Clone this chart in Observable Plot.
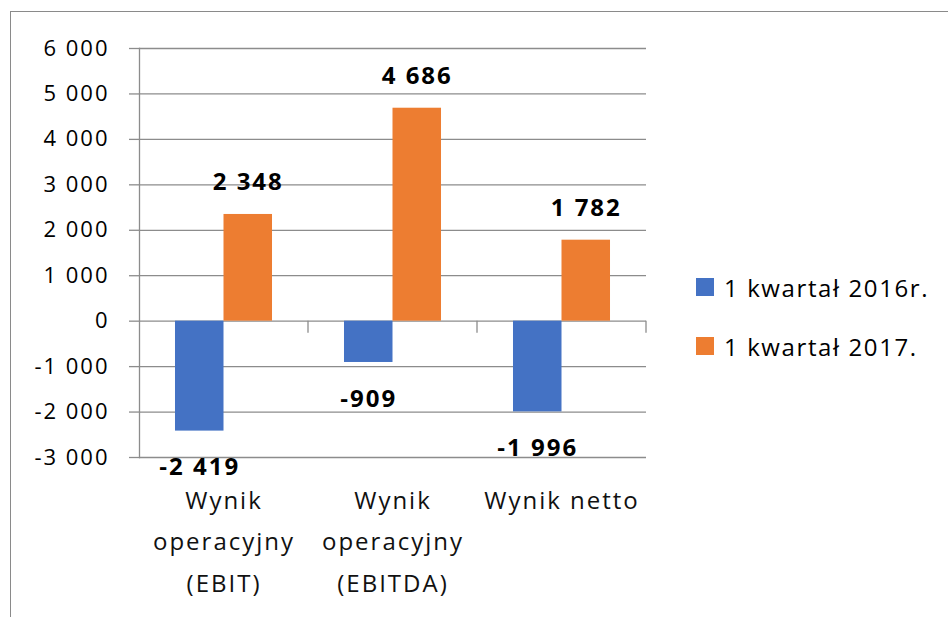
<!DOCTYPE html>
<html>
<head>
<meta charset="utf-8">
<script src="https://cdn.jsdelivr.net/npm/d3@7"></script>
<script src="https://cdn.jsdelivr.net/npm/@observablehq/plot@0.6"></script>
<style>
  html, body { margin: 0; padding: 0; background: #fff; }
  #wrap { position: relative; width: 948px; height: 617px; overflow: hidden; font-family: "Open Sans", sans-serif; }
  #border { position: absolute; left: 10px; top: 11px; width: 960px; height: 640px; border-left: 1.5px solid #8a8a8a; border-top: 1.5px solid #8a8a8a; }
  #chart { position: absolute; left: 0; top: 0; }
  #legend { position: absolute; left: 696px; top: 270px; }
  .item { display: flex; align-items: center; height: 34px; margin-bottom: 25px; font-size: 24px; letter-spacing: 1.6px; color: #000; white-space: nowrap; }
  .sw { width: 18px; height: 18px; margin-right: 10px; flex: none; }
</style>
</head>
<body>
<div id="wrap">
  <div id="border"></div>
  <div id="chart"></div>
  <div id="legend"></div>
</div>
<script>
const categories = ["Wynik operacyjny (EBIT)", "Wynik operacyjny (EBITDA)", "Wynik netto"];
const categoryLabels = ["Wynik\noperacyjny\n(EBIT)", "Wynik\noperacyjny\n(EBITDA)", "Wynik netto"];
const series = ["1 kwartał 2016r.", "1 kwartał 2017."];
const values2016 = [-2419, -909, -1996];
const values2017 = [2348, 4686, 1782];
const colors = ["#4472C4", "#ED7D31"];
const yTicks = [-3000, -2000, -1000, 0, 1000, 2000, 3000, 4000, 5000, 6000];

const locale = d3.formatLocale({decimal: ",", thousands: " ", grouping: [3], currency: ["", ""], minus: "-"});
const fmt = locale.format(",d");

const data = [];
categories.forEach((c, i) => {
  data.push({category: c, series: series[0], value: values2016[i]});
  data.push({category: c, series: series[1], value: values2017[i]});
});
const labelData = categories.map((c, i) => ({category: c, label: categoryLabels[i]}));

const gridColor = "#8c8c8c";

function categoryTicks(index, scales) {
  const ns = "http://www.w3.org/2000/svg";
  const g = document.createElementNS(ns, "g");
  try {
    const x = Math.max(...scales.x.range());
    const y0 = scales.y(0);
    const line = document.createElementNS(ns, "line");
    line.setAttribute("x1", x); line.setAttribute("x2", x);
    line.setAttribute("y1", y0); line.setAttribute("y2", y0 + 12);
    line.setAttribute("stroke", gridColor);
    line.setAttribute("stroke-width", 1.3);
    g.appendChild(line);
  } catch (e) {}
  return g;
}

const chart = Plot.plot({
  width: 680,
  height: 617,
  marginLeft: 139,
  marginRight: 34,
  marginTop: 48,
  marginBottom: 160,
  style: {fontFamily: "Open Sans", fontSize: "22px", letterSpacing: "2px", color: "#000", background: "transparent"},
  fx: {domain: categories, padding: 0, axis: null, label: null},
  x: {domain: series, paddingInner: 0, paddingOuter: 0.742, round: false, axis: null, label: null},
  y: {domain: [-3000, 6000], label: null},
  color: {domain: series, range: colors},
  marks: [
    Plot.ruleY(yTicks, {stroke: gridColor, strokeWidth: 1.3}),
    Plot.axisY(yTicks, {tickSize: 10, tickPadding: 20, stroke: gridColor, strokeWidth: 1.3, fill: "#000", tickFormat: fmt, fontSize: 22}),
    Plot.frame({anchor: "left", facetAnchor: "left", stroke: gridColor, strokeWidth: 1.3}),
    categoryTicks,
    Plot.barY(data, {fx: "category", x: "series", y: "value", fill: "series"}),
    Plot.text(data.filter(d => d.value >= 0), {fx: "category", x: "series", y: "value", text: d => fmt(d.value), lineAnchor: "bottom", dy: -24, fontSize: 24, fontWeight: "bold", fill: "#000"}),
    Plot.text(data.filter(d => d.value < 0), {fx: "category", x: "series", y: "value", text: d => fmt(d.value), lineAnchor: "top", dy: 27, fontSize: 24, fontWeight: "bold", fill: "#000"}),
    Plot.text(labelData, {fx: "category", text: "label", frameAnchor: "bottom", lineAnchor: "top", dy: 22, lineHeight: 1.73, fontSize: 24, fill: "#111"})
  ]
});
document.getElementById("chart").appendChild(chart);

const legend = document.getElementById("legend");
series.forEach((s, i) => {
  const item = document.createElement("div");
  item.className = "item";
  const sw = document.createElement("div");
  sw.className = "sw";
  sw.style.background = colors[i];
  const t = document.createElement("span");
  t.textContent = s;
  item.appendChild(sw);
  item.appendChild(t);
  legend.appendChild(item);
});
</script>
</body>
</html>
